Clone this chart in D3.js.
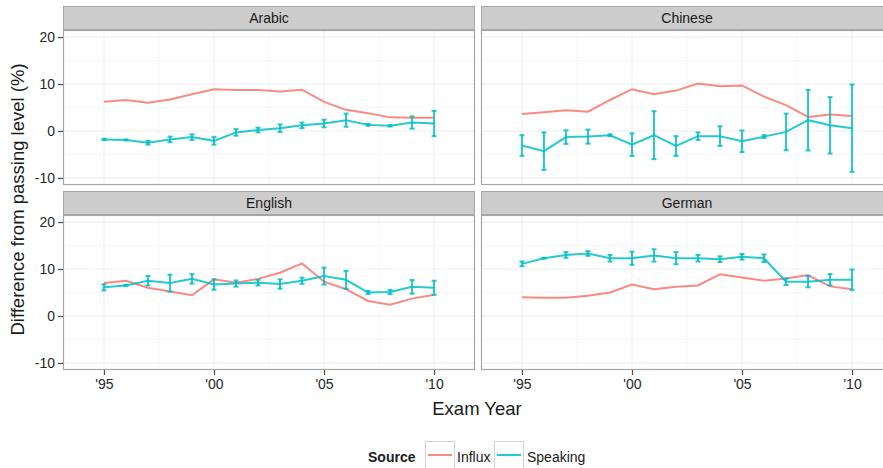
<!DOCTYPE html>
<html>
<head>
<meta charset="utf-8">
<script src="https://cdn.jsdelivr.net/npm/d3@7"></script>
<style>
  html, body { margin: 0; padding: 0; background: #fff; }
  svg { display: block; font-family: "Liberation Sans", Arial, Helvetica, sans-serif; }
</style>
</head>
<body>
<svg id="chart" width="883" height="468"></svg>
<script>
// Exam years covered by every series
const years = [1995, 1996, 1997, 1998, 1999, 2000, 2001, 2002, 2003, 2004, 2005, 2006, 2007, 2008, 2009, 2010];

// Facet order (row-major, two columns)
const languages = ["Arabic", "Chinese", "English", "German"];

// Influx: difference from passing level (%)
const influxArabic  = [6.2, 6.6, 6.0, 6.7, 7.8, 8.9, 8.7, 8.7, 8.4, 8.8, 6.2, 4.5, 3.8, 2.9, 2.8, 2.8];
const influxChinese = [3.6, 4.0, 4.4, 4.1, 6.6, 8.9, 7.8, 8.6, 10.1, 9.5, 9.7, 7.3, 5.5, 3.0, 3.5, 3.2];
const influxEnglish = [7.0, 7.5, 6.0, 5.2, 4.4, 7.8, 7.1, 7.9, 9.2, 11.2, 7.3, 5.7, 3.2, 2.4, 3.7, 4.5];
const influxGerman  = [4.0, 3.9, 3.9, 4.3, 5.0, 6.7, 5.7, 6.2, 6.5, 8.9, 8.2, 7.5, 8.0, 8.7, 6.3, 5.7];

// Speaking: difference from passing level (%)
const speakingArabic  = [-1.8, -1.9, -2.5, -1.8, -1.3, -2.1, -0.3, 0.2, 0.6, 1.2, 1.6, 2.3, 1.3, 1.1, 1.8, 1.6];
const speakingChinese = [-3.1, -4.3, -1.3, -1.2, -0.9, -2.9, -0.9, -3.2, -1.1, -1.1, -2.2, -1.2, -0.2, 2.3, 1.2, 0.6];
const speakingEnglish = [6.1, 6.5, 7.5, 7.0, 7.9, 6.7, 6.9, 7.1, 6.8, 7.5, 8.5, 7.7, 5.0, 5.1, 6.2, 6.0];
const speakingGerman  = [11.1, 12.3, 13.0, 13.3, 12.3, 12.3, 12.9, 12.3, 12.3, 12.1, 12.6, 12.3, 7.3, 7.3, 7.7, 7.7];

// Speaking: half-width of the error bars
const speakingErrArabic  = [0.15, 0.1, 0.4, 0.6, 0.6, 0.8, 0.7, 0.5, 0.8, 0.6, 0.8, 1.4, 0.2, 0.15, 1.3, 2.7];
const speakingErrChinese = [2.2, 4.0, 1.45, 1.5, 0.2, 2.4, 5.1, 2.1, 0.8, 2.1, 2.3, 0.3, 3.9, 6.45, 6.0, 9.3];
const speakingErrEnglish = [0.65, 0.15, 1.0, 1.8, 1.0, 1.1, 0.65, 0.6, 1.0, 0.65, 1.8, 1.9, 0.35, 0.45, 1.45, 1.5];
const speakingErrGerman  = [0.5, 0.1, 0.6, 0.5, 0.7, 1.4, 1.3, 1.3, 0.7, 0.6, 0.6, 0.8, 0.7, 1.2, 1.2, 2.2];

// Axis tick labels
const xTickYears  = [1995, 2000, 2005, 2010];
const xTickLabels = ["'95", "'00", "'05", "'10"];
const yTicks = [-10, 0, 10, 20];
const yTickLabels = ["-10", "0", "10", "20"];

const sourceNames = ["Influx", "Speaking"];

const influx = { Arabic: influxArabic, Chinese: influxChinese, English: influxEnglish, German: influxGerman };
const speaking = { Arabic: speakingArabic, Chinese: speakingChinese, English: speakingEnglish, German: speakingGerman };
const speakingErr = { Arabic: speakingErrArabic, Chinese: speakingErrChinese, English: speakingErrEnglish, German: speakingErrGerman };

const colors = { Influx: "#F8766D", Speaking: "#00BFC4" };
const textFont = "Liberation Sans, Arial, sans-serif";

// Layout
const left = 63, panelW = 412, gapX = 6;
const stripH = 24, panelH = 155;
const rowTops = [6, 191];

const svg = d3.select("#chart");

const x = d3.scaleLinear().domain([1993.14, 2011.86]).range([0, panelW]);
const y = d3.scaleLinear().domain([-11.5, 21.5]).range([panelH, 0]);

const line = d3.line().x((d, i) => x(years[i])).y(d => y(d));

languages.forEach((lang, k) => {
  const col = k % 2, row = Math.floor(k / 2);
  const px = left + col * (panelW + gapX);
  const top = rowTops[row];

  // strip
  const strip = svg.append("g").attr("transform", `translate(${px},${top})`);
  strip.append("rect")
    .attr("x", 0.5).attr("y", 0.5).attr("width", panelW - 1).attr("height", stripH - 1)
    .attr("fill", "#cccccc").attr("stroke", "#a6a6a6").attr("stroke-width", 1);
  strip.append("text")
    .attr("x", panelW / 2).attr("y", stripH / 2 + 5)
    .attr("text-anchor", "middle").attr("font-size", 14).attr("fill", "#1a1a1a")
    .text(lang);

  const g = svg.append("g").attr("transform", `translate(${px},${top + stripH})`);

  // minor grid
  const minorX = [1997.5, 2002.5, 2007.5];
  const minorY = [-5, 5, 15];
  g.selectAll(".mgx").data(minorX).join("line")
    .attr("x1", d => x(d)).attr("x2", d => x(d)).attr("y1", 0).attr("y2", panelH)
    .attr("stroke", "#f7f7f7").attr("stroke-width", 1);
  g.selectAll(".mgy").data(minorY).join("line")
    .attr("x1", 0).attr("x2", panelW).attr("y1", d => y(d)).attr("y2", d => y(d))
    .attr("stroke", "#f7f7f7").attr("stroke-width", 1);
  // major grid
  g.selectAll(".gx").data(xTickYears).join("line")
    .attr("x1", d => x(d)).attr("x2", d => x(d)).attr("y1", 0).attr("y2", panelH)
    .attr("stroke", "#ededed").attr("stroke-width", 1);
  g.selectAll(".gy").data(yTicks).join("line")
    .attr("x1", 0).attr("x2", panelW).attr("y1", d => y(d)).attr("y2", d => y(d))
    .attr("stroke", "#ededed").attr("stroke-width", 1);

  // Influx line
  g.append("path").datum(influx[lang])
    .attr("d", line).attr("fill", "none")
    .attr("stroke", colors.Influx).attr("stroke-width", 2).attr("stroke-opacity", 0.85);

  // Speaking line with error bars
  g.append("path").datum(speaking[lang])
    .attr("d", line).attr("fill", "none")
    .attr("stroke", colors.Speaking).attr("stroke-width", 2).attr("stroke-opacity", 0.85);

  const eb = g.append("g").attr("stroke", colors.Speaking).attr("stroke-width", 2).attr("stroke-opacity", 0.85);
  speaking[lang].forEach((v, i) => {
    const e = speakingErr[lang][i];
    const cx = x(years[i]);
    const y0 = y(v - e), y1 = y(v + e);
    eb.append("line").attr("x1", cx).attr("x2", cx).attr("y1", y0).attr("y2", y1);
    eb.append("line").attr("x1", cx - 2.5).attr("x2", cx + 2.5).attr("y1", y0).attr("y2", y0);
    eb.append("line").attr("x1", cx - 2.5).attr("x2", cx + 2.5).attr("y1", y1).attr("y2", y1);
  });

  // panel border
  g.append("rect")
    .attr("x", 0.5).attr("y", 0.5).attr("width", panelW - 1).attr("height", panelH - 1)
    .attr("fill", "none").attr("stroke", "#a6a6a6").attr("stroke-width", 1.2);

  // y axis on left column
  if (col === 0) {
    const ya = g.append("g").call(d3.axisLeft(y).tickValues(yTicks).tickSize(5).tickPadding(3)
      .tickFormat((d, i) => yTickLabels[i]));
    ya.select(".domain").remove();
    ya.selectAll(".tick line").attr("stroke", "#4d4d4d").attr("stroke-width", 1.2);
    ya.selectAll(".tick text").attr("font-size", 14).attr("fill", "#262626")
      .attr("font-family", textFont);
  }
  // x axis on bottom row
  if (row === 1) {
    const xa = g.append("g").attr("transform", `translate(0,${panelH})`)
      .call(d3.axisBottom(x).tickValues(xTickYears).tickSize(5).tickPadding(4)
        .tickFormat((d, i) => xTickLabels[i]));
    xa.select(".domain").remove();
    xa.selectAll(".tick line").attr("stroke", "#4d4d4d").attr("stroke-width", 1.2);
    xa.selectAll(".tick text").attr("font-size", 14).attr("fill", "#262626")
      .attr("font-family", textFont);
  }
});

// axis titles
svg.append("text")
  .attr("transform", `translate(24,${(30 + 369) / 2}) rotate(-90)`)
  .attr("text-anchor", "middle").attr("font-size", 18.5).attr("fill", "#1a1a1a")
  .text("Difference from passing level (%)");
svg.append("text")
  .attr("x", 477).attr("y", 415)
  .attr("text-anchor", "middle").attr("font-size", 18.5).attr("fill", "#1a1a1a")
  .text("Exam Year");

// legend
const lg = svg.append("g");
lg.append("text").attr("x", 368).attr("y", 462)
  .attr("font-size", 14).attr("font-weight", "bold").attr("fill", "#1a1a1a").text("Source");
const keyX = [425, 494];
const labX = [457, 527];
sourceNames.forEach((s, i) => {
  lg.append("rect").attr("x", keyX[i] + 0.5).attr("y", 441.5).attr("width", 29).attr("height", 29)
    .attr("fill", "#fff").attr("stroke", "#d0d0d0").attr("stroke-width", 1);
  lg.append("line").attr("x1", keyX[i] + 3).attr("x2", keyX[i] + 27).attr("y1", 455).attr("y2", 455)
    .attr("stroke", colors[s]).attr("stroke-width", 2).attr("stroke-opacity", 0.85);
  lg.append("text").attr("x", labX[i]).attr("y", 462)
    .attr("font-size", 14).attr("fill", "#1a1a1a").text(s);
});
</script>
</body>
</html>
